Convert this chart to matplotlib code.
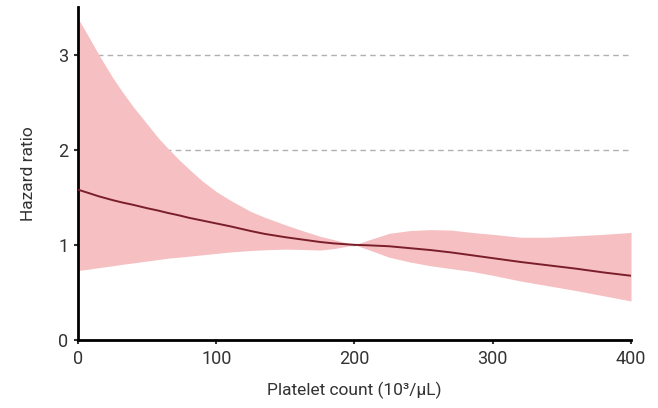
import matplotlib
matplotlib.use("Agg")
import matplotlib.pyplot as plt

plt.rcParams['font.family'] = ['Roboto', 'DejaVu Sans']

platelet = [0, 8, 15, 25, 32, 40, 50, 58, 65, 73, 80, 90, 100, 110, 125, 135, 150, 160, 175, 185,
            200, 210, 225, 240, 255, 270, 285, 300, 320, 340, 360, 380, 400]
hr = [1.58, 1.543, 1.51, 1.47, 1.445, 1.42, 1.385, 1.36, 1.335, 1.31, 1.285, 1.255, 1.225, 1.195, 1.145,
      1.115, 1.08, 1.06, 1.03, 1.015, 1.0, 0.995, 0.985, 0.965, 0.945, 0.92, 0.89, 0.86, 0.82, 0.785,
      0.75, 0.71, 0.675]
upper = [3.38, 3.18, 3.0, 2.76, 2.61, 2.45, 2.27, 2.125, 2.015, 1.895, 1.80, 1.67, 1.56, 1.47, 1.35,
         1.29, 1.21, 1.16, 1.09, 1.055, 1.0, 1.05, 1.12, 1.15, 1.16, 1.155, 1.13, 1.11, 1.08, 1.08,
         1.095, 1.11, 1.13]
lower = [0.73, 0.745, 0.76, 0.78, 0.795, 0.81, 0.83, 0.845, 0.86, 0.87, 0.88, 0.895, 0.91, 0.925, 0.94,
         0.948, 0.955, 0.952, 0.945, 0.96, 1.0, 0.95, 0.87, 0.82, 0.78, 0.75, 0.72, 0.68, 0.62, 0.57,
         0.52, 0.465, 0.41]
xticks = [0, 100, 200, 300, 400]
yticks = [0, 1, 2, 3]

fig = plt.figure(figsize=(6.58, 4.08), dpi=100)
ax = fig.add_axes([0.1185, 0.1667, 0.8405, 0.8163])

for y in [1, 2, 3]:
    ax.axhline(y, color='#b0b0b0', linestyle=(0, (4, 3)), linewidth=1.0, zorder=1)
ax.fill_between(platelet, lower, upper, color='#f6bfc2', linewidth=0, zorder=2)
ax.plot(platelet, hr, color='#7a1f2a', linewidth=1.4, zorder=3)

ax.set_xlim(0, 400)
ax.set_ylim(0, 3.5)
ax.set_xticks(xticks)
ax.set_yticks(yticks)
ax.tick_params(axis='both', labelsize=13, length=3, width=1.5, color='#333333', labelcolor='#333333', pad=4)
for s in ['top', 'right']:
    ax.spines[s].set_visible(False)
for s in ['left', 'bottom']:
    ax.spines[s].set_linewidth(2)
    ax.spines[s].set_color('black')

ax.set_xlabel('Platelet count (10\u00b3/\u03bcL)', fontsize=12.5, color='#333333', labelpad=10)
ax.set_ylabel('Hazard ratio', fontsize=12.5, color='#333333', labelpad=16)

fig.savefig('out.png', dpi=100)
